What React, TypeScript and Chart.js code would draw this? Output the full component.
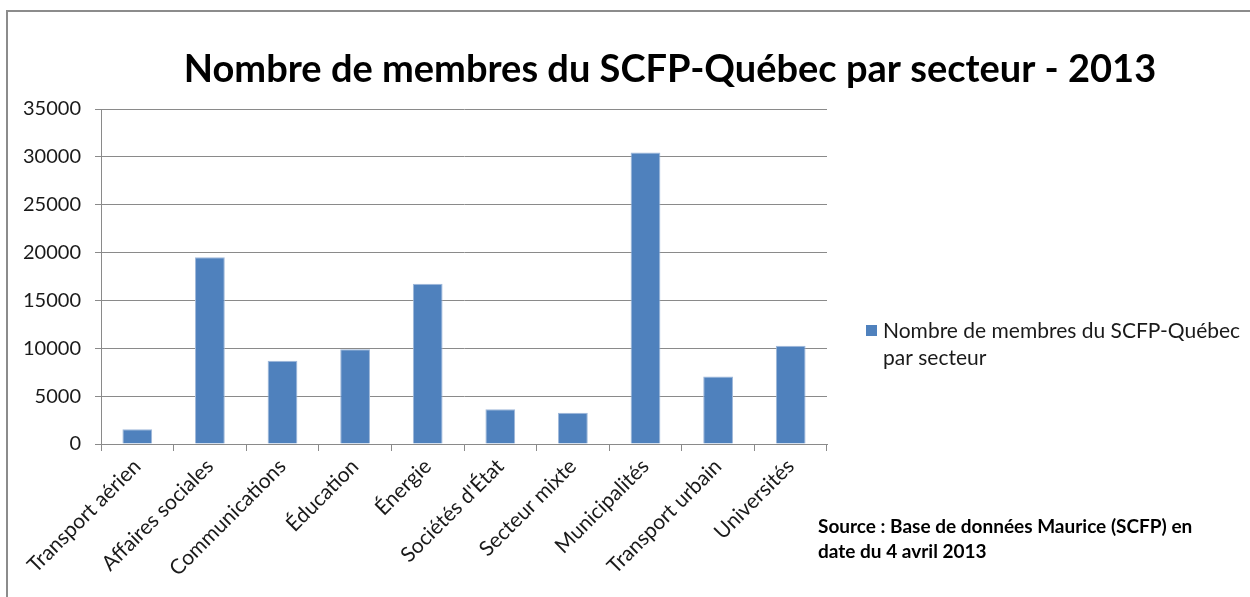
import React, { useEffect, useRef } from "react";
import { Chart, registerables } from "chart.js";

Chart.register(...registerables);

const categories = [
  "Transport aérien",
  "Affaires sociales",
  "Communications",
  "Éducation",
  "Énergie",
  "Sociétés d'État",
  "Secteur mixte",
  "Municipalités",
  "Transport urbain",
  "Universités",
];
const members = [1550, 19500, 8700, 9900, 16750, 3620, 3270, 30450, 7060, 10260];
const seriesLabel = "Nombre de membres du SCFP-Québec par secteur";
const legendLines = ["Nombre de membres du SCFP-Québec", "par secteur"];
const titleText = "Nombre de membres du SCFP-Québec par secteur - 2013";
const sourceLines = ["Source : Base de données Maurice (SCFP) en", "date du 4 avril 2013"];
const yMax = 35000;
const yStep = 5000;

const BAR = "#4F81BD";
const GRID = "#8a8a8a";
const FONT = "Lato, 'Open Sans', sans-serif";

const decorPlugin = {
  id: "decor",
  beforeDraw(chart: any) {
    const ctx = chart.ctx;
    ctx.save();
    ctx.fillStyle = "#ffffff";
    ctx.fillRect(0, 0, chart.width, chart.height);
    ctx.strokeStyle = "#8c8c8c";
    ctx.lineWidth = 2;
    ctx.beginPath();
    ctx.moveTo(7, chart.height + 5);
    ctx.lineTo(7, 11);
    ctx.lineTo(chart.width + 5, 11);
    ctx.stroke();
    ctx.restore();
  },
  afterDraw(chart: any) {
    const ctx = chart.ctx;
    ctx.save();
    // title
    ctx.fillStyle = "#000000";
    ctx.font = `bold 38px ${FONT}`;
    ctx.textAlign = "center";
    ctx.textBaseline = "alphabetic";
    ctx.fillText(titleText, 670, 82);
    // legend
    ctx.fillStyle = BAR;
    ctx.fillRect(866, 325, 11, 11);
    ctx.fillStyle = "#1a1a1a";
    ctx.font = `21px ${FONT}`;
    ctx.textAlign = "left";
    ctx.fillText(legendLines[0], 883, 338);
    ctx.fillText(legendLines[1], 883, 365);
    // source
    ctx.font = `bold 19px ${FONT}`;
    ctx.fillStyle = "#000000";
    ctx.fillText(sourceLines[0], 818, 533);
    ctx.fillText(sourceLines[1], 818, 558);
    ctx.restore();
  },
};

export default function App() {
  const ref = useRef<HTMLCanvasElement | null>(null);
  useEffect(() => {
    document.body.style.margin = "0";
    const chart = new Chart(ref.current as HTMLCanvasElement, {
      type: "bar",
      data: {
        labels: categories,
        datasets: [
          {
            label: seriesLabel,
            data: members,
            backgroundColor: BAR,
            borderColor: "#9fb8da",
            borderWidth: 1,
            categoryPercentage: 1,
            barPercentage: 0.41,
          },
        ],
      },
      options: {
        animation: false,
        responsive: false,
        devicePixelRatio: 1,
        layout: { padding: { left: 0, top: 109, right: 423, bottom: 0 } },
        plugins: {
          legend: { display: false },
          title: { display: false },
          tooltip: { enabled: false },
        },
        scales: {
          x: {
            afterFit(scale: any) {
              scale.height = 153;
            },
            grid: {
              offset: true,
              drawOnChartArea: false,
              drawTicks: true,
              tickLength: 7,
              color: GRID,
            },
            border: { color: GRID, width: 1 },
            ticks: {
              minRotation: 45,
              maxRotation: 45,
              autoSkip: false,
              color: "#1a1a1a",
              padding: 3,
              font: { family: FONT, size: 21 },
            },
          },
          y: {
            min: 0,
            max: yMax,
            afterFit(scale: any) {
              scale.width = 101;
            },
            grid: { color: GRID, tickLength: 6, drawTicks: true },
            border: { color: GRID, width: 1 },
            ticks: {
              stepSize: yStep,
              color: "#1a1a1a",
              padding: 14,
              font: { family: FONT, size: 20 },
              callback: (v: any) => String(v),
            },
          },
        },
      },
      plugins: [decorPlugin],
    });
    return () => chart.destroy();
  }, []);
  return (
    <div style={{ position: "absolute", left: 0, top: 0, width: 1250, height: 597 }}>
      <canvas ref={ref} width={1250} height={597} style={{ width: 1250, height: 597, display: "block" }} />
    </div>
  );
}
